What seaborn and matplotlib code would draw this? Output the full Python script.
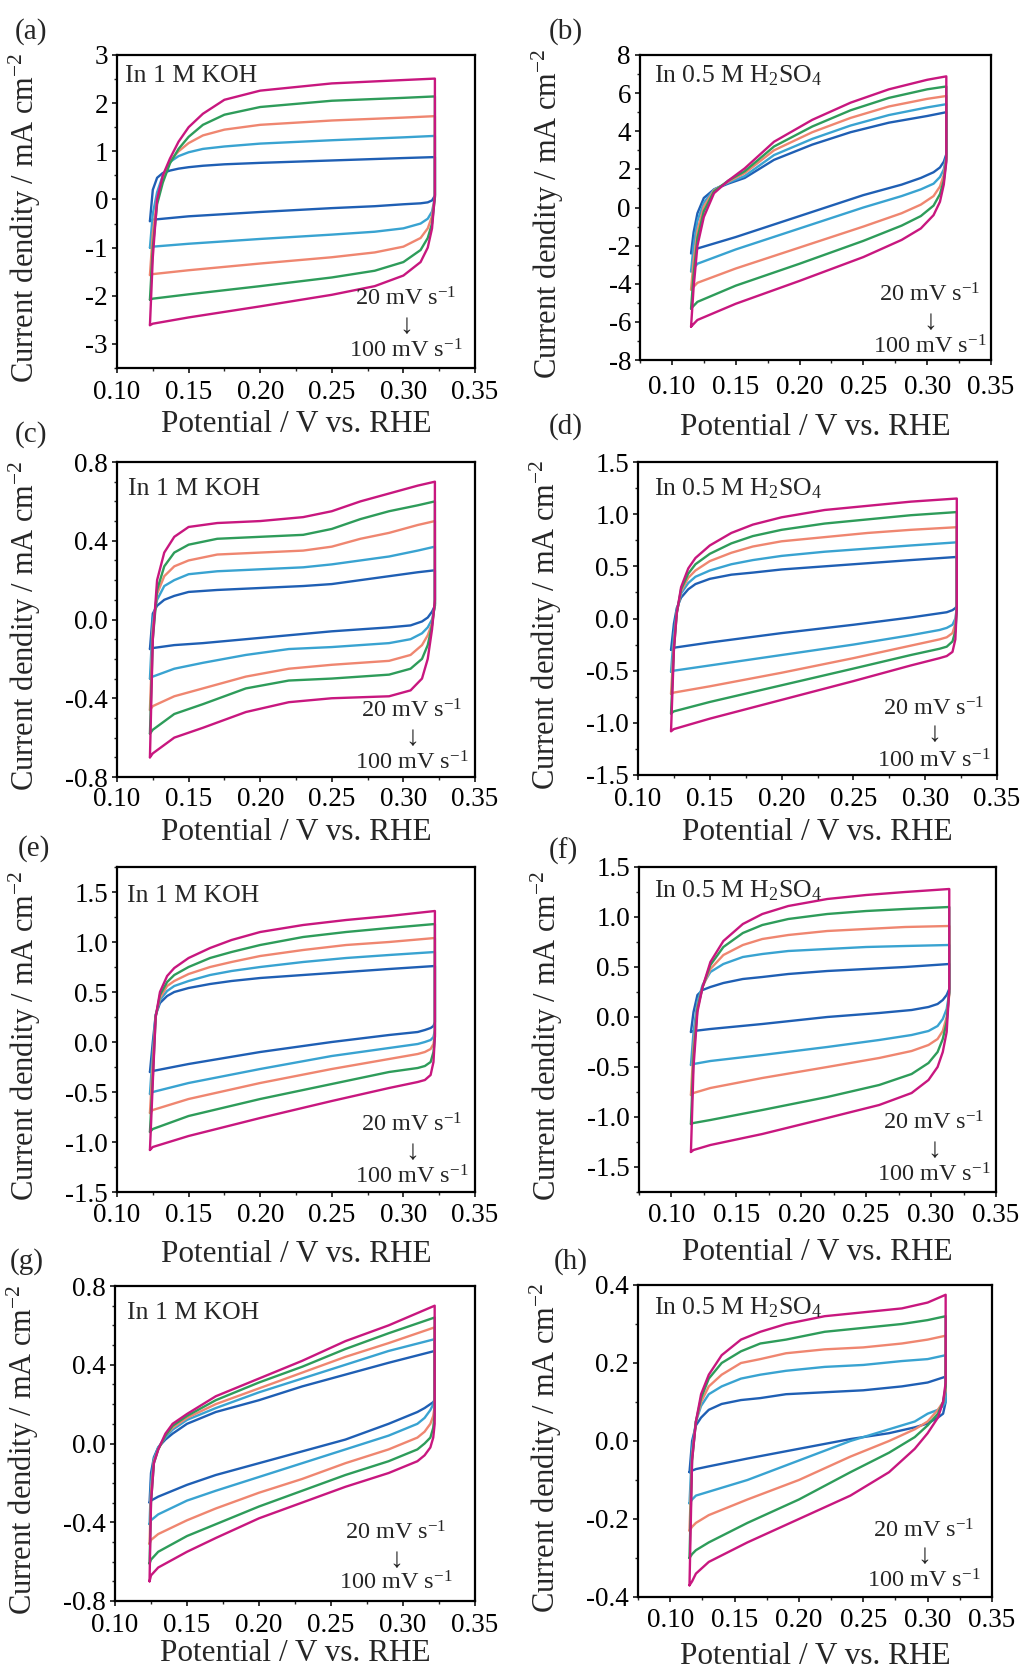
import numpy as np
import pandas as pd
import matplotlib
matplotlib.use("Agg")
import matplotlib.pyplot as plt
import seaborn as sns
from matplotlib.ticker import MultipleLocator, FormatStrFormatter

# ---------------- data ----------------
RATES = [20, 40, 60, 80, 100]
COLORS = ["#1f5fb4", "#39a3d1", "#ef8670", "#2e9c5a", "#c8177f"]

# (a) 1 M KOH
A_E_UP = [0.123, 0.125, 0.128, 0.132, 0.137, 0.143, 0.150, 0.160, 0.175, 0.200, 0.250, 0.300, 0.322]
A_J_UP = [
    [-0.45, 0.20, 0.45, 0.55, 0.60, 0.64, 0.67, 0.70, 0.73, 0.76, 0.81, 0.86, 0.88],
    [-1.00, -0.30, 0.15, 0.50, 0.78, 0.90, 0.98, 1.05, 1.10, 1.16, 1.23, 1.29, 1.32],
    [-1.57, -0.70, 0.00, 0.45, 0.80, 1.00, 1.17, 1.33, 1.45, 1.55, 1.64, 1.70, 1.73],
    [-2.08, -1.00, -0.10, 0.35, 0.75, 1.05, 1.30, 1.55, 1.76, 1.92, 2.05, 2.11, 2.14],
    [-2.61, -1.20, 0.00, 0.50, 0.85, 1.20, 1.50, 1.78, 2.07, 2.26, 2.41, 2.48, 2.51],
]
A_E_DN = [0.322, 0.320, 0.317, 0.312, 0.300, 0.280, 0.250, 0.200, 0.150, 0.125, 0.123]
A_J_DN = [
    [0.08, -0.02, -0.06, -0.08, -0.10, -0.14, -0.18, -0.26, -0.35, -0.42, -0.45],
    [0.05, -0.25, -0.40, -0.50, -0.60, -0.67, -0.73, -0.82, -0.92, -0.98, -1.00],
    [0.05, -0.35, -0.60, -0.80, -0.98, -1.10, -1.20, -1.33, -1.47, -1.55, -1.57],
    [0.05, -0.50, -0.80, -1.05, -1.30, -1.48, -1.62, -1.80, -1.97, -2.06, -2.08],
    [0.10, -0.60, -1.00, -1.30, -1.58, -1.80, -1.98, -2.22, -2.45, -2.58, -2.61],
]

# (b) 0.5 M H2SO4
B_E_UP = [0.115, 0.117, 0.120, 0.125, 0.133, 0.144, 0.157, 0.180, 0.210, 0.240, 0.270, 0.300, 0.315]
B_J_UP = [
    [-2.40, -1.30, -0.30, 0.50, 0.95, 1.25, 1.55, 2.50, 3.30, 3.95, 4.45, 4.80, 5.00],
    [-3.35, -2.00, -0.70, 0.25, 0.95, 1.30, 1.65, 2.75, 3.60, 4.30, 4.85, 5.25, 5.42],
    [-4.30, -2.80, -1.20, 0.05, 0.90, 1.35, 1.80, 3.00, 3.95, 4.70, 5.30, 5.70, 5.85],
    [-5.30, -3.50, -1.60, -0.20, 0.85, 1.40, 1.90, 3.20, 4.25, 5.10, 5.75, 6.20, 6.35],
    [-6.25, -4.20, -2.00, -0.50, 0.75, 1.40, 2.05, 3.45, 4.60, 5.50, 6.20, 6.70, 6.88],
]
B_E_DN = [0.315, 0.313, 0.310, 0.305, 0.295, 0.280, 0.250, 0.200, 0.150, 0.120, 0.115]
B_J_DN = [
    [2.80, 2.40, 2.10, 1.85, 1.55, 1.20, 0.65, -0.45, -1.55, -2.15, -2.40],
    [2.70, 2.00, 1.60, 1.25, 0.95, 0.60, 0.00, -1.10, -2.20, -2.95, -3.35],
    [2.60, 1.70, 1.10, 0.60, 0.15, -0.30, -1.00, -2.10, -3.20, -3.95, -4.30],
    [2.50, 1.40, 0.70, 0.10, -0.45, -0.95, -1.75, -2.95, -4.10, -4.95, -5.30],
    [2.40, 1.20, 0.30, -0.40, -1.10, -1.70, -2.60, -3.85, -5.05, -5.90, -6.25],
]

# (c) 1 M KOH
C_E_UP = [0.123, 0.125, 0.128, 0.133, 0.140, 0.150, 0.170, 0.200, 0.230, 0.250, 0.270, 0.290, 0.310, 0.322]
C_J_UP = [
    [-0.15, 0.03, 0.07, 0.10, 0.12, 0.14, 0.15, 0.16, 0.17, 0.18, 0.20, 0.22, 0.24, 0.25],
    [-0.30, 0.00, 0.10, 0.17, 0.20, 0.23, 0.245, 0.255, 0.265, 0.28, 0.30, 0.32, 0.35, 0.37],
    [-0.46, -0.05, 0.13, 0.22, 0.27, 0.30, 0.33, 0.34, 0.35, 0.37, 0.41, 0.44, 0.48, 0.50],
    [-0.58, -0.10, 0.15, 0.27, 0.34, 0.38, 0.41, 0.42, 0.43, 0.46, 0.51, 0.55, 0.58, 0.60],
    [-0.70, -0.10, 0.20, 0.34, 0.42, 0.47, 0.49, 0.50, 0.52, 0.55, 0.60, 0.64, 0.68, 0.70],
]
C_E_DN = [0.322, 0.320, 0.317, 0.313, 0.305, 0.290, 0.270, 0.250, 0.220, 0.190, 0.160, 0.140, 0.125, 0.123]
C_J_DN = [
    [0.07, 0.04, 0.01, -0.01, -0.03, -0.04, -0.05, -0.06, -0.08, -0.10, -0.12, -0.13, -0.145, -0.15],
    [0.07, 0.00, -0.04, -0.07, -0.10, -0.12, -0.13, -0.14, -0.15, -0.18, -0.22, -0.25, -0.29, -0.30],
    [0.08, -0.02, -0.08, -0.13, -0.18, -0.21, -0.22, -0.23, -0.25, -0.29, -0.35, -0.39, -0.44, -0.46],
    [0.08, -0.03, -0.13, -0.20, -0.25, -0.28, -0.29, -0.30, -0.31, -0.35, -0.43, -0.48, -0.56, -0.58],
    [0.10, -0.05, -0.20, -0.30, -0.36, -0.39, -0.395, -0.40, -0.42, -0.47, -0.55, -0.60, -0.68, -0.70],
]

# (d) 0.5 M H2SO4
D_E_UP = [0.123, 0.125, 0.127, 0.130, 0.135, 0.140, 0.150, 0.165, 0.180, 0.200, 0.230, 0.260, 0.290, 0.322]
D_J_UP = [
    [-0.30, -0.05, 0.10, 0.20, 0.28, 0.33, 0.38, 0.42, 0.44, 0.47, 0.50, 0.53, 0.56, 0.59],
    [-0.51, -0.15, 0.07, 0.24, 0.34, 0.40, 0.46, 0.52, 0.56, 0.60, 0.64, 0.67, 0.70, 0.73],
    [-0.72, -0.25, 0.06, 0.26, 0.39, 0.46, 0.55, 0.63, 0.69, 0.74, 0.78, 0.82, 0.85, 0.875],
    [-0.91, -0.30, 0.05, 0.28, 0.43, 0.52, 0.62, 0.72, 0.79, 0.85, 0.91, 0.95, 0.99, 1.02],
    [-1.08, -0.30, 0.05, 0.30, 0.48, 0.58, 0.70, 0.82, 0.90, 0.97, 1.04, 1.08, 1.12, 1.15],
]
D_E_DN = [0.322, 0.321, 0.319, 0.315, 0.310, 0.290, 0.250, 0.200, 0.150, 0.125, 0.123]
D_J_DN = [
    [0.12, 0.10, 0.08, 0.06, 0.05, 0.01, -0.06, -0.14, -0.23, -0.28, -0.30],
    [0.10, 0.00, -0.06, -0.09, -0.11, -0.16, -0.25, -0.35, -0.45, -0.50, -0.51],
    [0.10, -0.05, -0.14, -0.18, -0.20, -0.26, -0.38, -0.52, -0.65, -0.71, -0.72],
    [0.08, -0.12, -0.22, -0.27, -0.29, -0.35, -0.48, -0.64, -0.80, -0.89, -0.91],
    [0.10, -0.20, -0.32, -0.36, -0.38, -0.45, -0.60, -0.78, -0.96, -1.06, -1.08],
]

# (e) 1 M KOH
E_E_UP = [0.123, 0.125, 0.127, 0.130, 0.135, 0.140, 0.150, 0.165, 0.180, 0.200, 0.230, 0.260, 0.290, 0.322]
E_J_UP = [
    [-0.30, 0.00, 0.27, 0.39, 0.46, 0.50, 0.54, 0.58, 0.61, 0.64, 0.67, 0.70, 0.73, 0.76],
    [-0.52, -0.10, 0.27, 0.42, 0.51, 0.56, 0.61, 0.67, 0.71, 0.75, 0.80, 0.84, 0.87, 0.90],
    [-0.71, -0.20, 0.26, 0.44, 0.56, 0.61, 0.68, 0.75, 0.80, 0.86, 0.92, 0.97, 1.00, 1.04],
    [-0.90, -0.35, 0.25, 0.47, 0.60, 0.67, 0.75, 0.84, 0.90, 0.97, 1.05, 1.10, 1.14, 1.18],
    [-1.08, -0.40, 0.25, 0.50, 0.66, 0.74, 0.84, 0.94, 1.02, 1.10, 1.17, 1.22, 1.26, 1.31],
]
E_E_DN = [0.322, 0.321, 0.319, 0.315, 0.310, 0.290, 0.250, 0.200, 0.150, 0.125, 0.123]
E_J_DN = [
    [0.20, 0.16, 0.14, 0.12, 0.10, 0.07, 0.00, -0.10, -0.22, -0.29, -0.30],
    [0.12, 0.05, 0.02, 0.00, -0.02, -0.06, -0.14, -0.27, -0.41, -0.50, -0.52],
    [0.08, -0.02, -0.07, -0.10, -0.12, -0.17, -0.27, -0.41, -0.57, -0.68, -0.71],
    [0.05, -0.10, -0.20, -0.24, -0.26, -0.30, -0.42, -0.57, -0.74, -0.87, -0.90],
    [0.06, -0.20, -0.33, -0.38, -0.40, -0.46, -0.59, -0.76, -0.94, -1.05, -1.08],
]

# (f) 0.5 M H2SO4
F_E_UP = [0.115, 0.117, 0.120, 0.124, 0.130, 0.140, 0.155, 0.170, 0.190, 0.220, 0.250, 0.280, 0.314]
F_J_UP = [
    [-0.15, 0.05, 0.22, 0.27, 0.30, 0.34, 0.38, 0.40, 0.43, 0.46, 0.48, 0.50, 0.53],
    [-0.48, -0.15, 0.15, 0.32, 0.45, 0.53, 0.60, 0.63, 0.66, 0.68, 0.70, 0.71, 0.72],
    [-0.78, -0.30, 0.10, 0.30, 0.48, 0.62, 0.72, 0.78, 0.82, 0.86, 0.88, 0.90, 0.91],
    [-1.07, -0.40, 0.08, 0.30, 0.52, 0.70, 0.84, 0.92, 0.98, 1.03, 1.06, 1.08, 1.10],
    [-1.35, -0.50, 0.05, 0.30, 0.55, 0.76, 0.93, 1.03, 1.11, 1.18, 1.22, 1.25, 1.28],
]
F_E_DN = [0.314, 0.312, 0.309, 0.305, 0.298, 0.285, 0.260, 0.220, 0.170, 0.130, 0.117, 0.115]
F_J_DN = [
    [0.28, 0.22, 0.17, 0.13, 0.10, 0.07, 0.04, 0.00, -0.07, -0.12, -0.14, -0.15],
    [0.24, 0.08, -0.02, -0.09, -0.14, -0.18, -0.23, -0.30, -0.38, -0.44, -0.47, -0.48],
    [0.22, 0.00, -0.14, -0.22, -0.28, -0.34, -0.41, -0.50, -0.61, -0.71, -0.76, -0.78],
    [0.25, -0.05, -0.22, -0.35, -0.46, -0.57, -0.68, -0.80, -0.93, -1.03, -1.06, -1.07],
    [0.28, -0.15, -0.35, -0.50, -0.63, -0.76, -0.88, -1.01, -1.17, -1.28, -1.33, -1.35],
]

# (g) 1 M KOH
G_E_UP = [0.124, 0.125, 0.127, 0.130, 0.135, 0.140, 0.150, 0.170, 0.200, 0.230, 0.260, 0.290, 0.322]
G_J_UP = [
    [-0.30, -0.15, -0.07, -0.02, 0.02, 0.05, 0.10, 0.16, 0.22, 0.29, 0.35, 0.41, 0.47],
    [-0.41, -0.20, -0.08, -0.02, 0.03, 0.07, 0.12, 0.18, 0.26, 0.33, 0.40, 0.47, 0.53],
    [-0.51, -0.25, -0.09, -0.03, 0.04, 0.08, 0.13, 0.20, 0.28, 0.36, 0.44, 0.51, 0.59],
    [-0.61, -0.30, -0.10, -0.03, 0.04, 0.09, 0.14, 0.22, 0.31, 0.39, 0.48, 0.56, 0.64],
    [-0.70, -0.30, -0.10, -0.03, 0.05, 0.10, 0.15, 0.24, 0.33, 0.42, 0.52, 0.60, 0.70],
]
G_E_DN = [0.322, 0.321, 0.319, 0.315, 0.310, 0.290, 0.260, 0.230, 0.200, 0.170, 0.150, 0.130, 0.125, 0.124]
G_J_DN = [
    [0.22, 0.21, 0.20, 0.18, 0.16, 0.10, 0.02, -0.04, -0.10, -0.16, -0.21, -0.27, -0.29, -0.30],
    [0.23, 0.20, 0.17, 0.13, 0.10, 0.04, -0.03, -0.10, -0.17, -0.24, -0.29, -0.36, -0.39, -0.41],
    [0.19, 0.14, 0.10, 0.06, 0.03, -0.03, -0.10, -0.18, -0.25, -0.33, -0.39, -0.46, -0.49, -0.51],
    [0.15, 0.08, 0.03, 0.00, -0.03, -0.09, -0.16, -0.24, -0.32, -0.41, -0.47, -0.55, -0.59, -0.61],
    [0.10, 0.03, -0.02, -0.06, -0.09, -0.15, -0.22, -0.30, -0.38, -0.48, -0.55, -0.63, -0.67, -0.70],
]

# (h) 0.5 M H2SO4
H_E_UP = [0.115, 0.117, 0.120, 0.124, 0.130, 0.140, 0.155, 0.170, 0.190, 0.220, 0.250, 0.280, 0.300, 0.314]
H_J_UP = [
    [-0.08, 0.00, 0.04, 0.06, 0.08, 0.095, 0.105, 0.11, 0.12, 0.125, 0.13, 0.14, 0.15, 0.165],
    [-0.16, -0.02, 0.05, 0.09, 0.12, 0.14, 0.16, 0.17, 0.18, 0.19, 0.195, 0.205, 0.21, 0.22],
    [-0.23, -0.04, 0.05, 0.10, 0.14, 0.17, 0.20, 0.21, 0.225, 0.235, 0.24, 0.25, 0.26, 0.27],
    [-0.30, -0.05, 0.05, 0.11, 0.16, 0.20, 0.23, 0.25, 0.26, 0.28, 0.29, 0.30, 0.31, 0.32],
    [-0.37, -0.05, 0.05, 0.12, 0.17, 0.22, 0.26, 0.28, 0.30, 0.32, 0.33, 0.34, 0.355, 0.375],
]
H_E_DN = [0.314, 0.312, 0.308, 0.300, 0.290, 0.270, 0.240, 0.200, 0.160, 0.130, 0.120, 0.117, 0.115]
H_J_DN = [
    [0.10, 0.07, 0.06, 0.045, 0.035, 0.02, 0.005, -0.02, -0.045, -0.065, -0.072, -0.076, -0.08],
    [0.10, 0.09, 0.08, 0.07, 0.05, 0.03, 0.00, -0.05, -0.10, -0.13, -0.14, -0.15, -0.16],
    [0.13, 0.10, 0.08, 0.05, 0.03, 0.00, -0.04, -0.10, -0.15, -0.19, -0.21, -0.22, -0.23],
    [0.14, 0.10, 0.07, 0.04, 0.01, -0.03, -0.08, -0.15, -0.21, -0.26, -0.28, -0.29, -0.30],
    [0.15, 0.10, 0.06, 0.02, -0.02, -0.08, -0.14, -0.20, -0.26, -0.31, -0.34, -0.36, -0.37],
]

LABELS = ["(a)", "(b)", "(c)", "(d)", "(e)", "(f)", "(g)", "(h)"]
ELECTROLYTE = ["In 1 M KOH", r"In 0.5 M H$_2$SO$_4$"] * 4
RATE_TOP = r"20 mV s$^{\mathrm{-1}}$"
RATE_BOT = r"100 mV s$^{\mathrm{-1}}$"
XLABEL = "Potential / V vs. RHE"
YLABEL = r"Current dendity / mA cm$^{\mathrm{-2}}$"

# ---------------- style ----------------
sns.set_theme(style="ticks")
plt.rcParams["font.family"] = ["Liberation Serif", "DejaVu Serif"]
plt.rcParams["mathtext.fontset"] = "custom"
plt.rcParams["mathtext.rm"] = "Liberation Serif"
plt.rcParams["mathtext.it"] = "Liberation Serif:italic"
plt.rcParams["mathtext.bf"] = "Liberation Serif:bold"
plt.rcParams["axes.unicode_minus"] = False

W, H = 1024, 1675
fig = plt.figure(figsize=(W / 100, H / 100), dpi=100)
PX = 72 / 100  # points per pixel

# axes boxes in pixels: left, top, right, bottom
BOX = [
    (117, 55, 475, 368), (640, 55, 991, 360),
    (117, 462, 475, 777), (638, 462, 997, 775),
    (117, 867, 475, 1192), (639, 867, 996, 1192),
    (115, 1286, 475, 1601), (638, 1285, 992, 1597),
]
YLIM = [(-3.5, 3), (-8, 8), (-0.8, 0.8), (-1.5, 1.5), (-1.5, 1.75), (-1.75, 1.5), (-0.8, 0.8), (-0.4, 0.4)]
YMAJ = [1, 2, 0.4, 0.5, 0.5, 0.5, 0.4, 0.2]
YMIN = [0.5, 1, 0.1, 0.25, 0.25, 0.25, 0.1, 0.1]
YFMT = ["%d", "%d", "%.1f", "%.1f", "%.1f", "%.1f", "%.1f", "%.1f"]
XLO = [0.10, 0.075, 0.10, 0.10, 0.10, 0.075, 0.10, 0.075]
XPAD = [7, 10, 5, 7, 6, 6, 7, 6]
XLAB_Y = [42, 53, 41, 43, 48, 46, 38, 45]
LABEL_POS = [(15, 18), (549, 18), (15, 421), (549, 413), (18, 835), (549, 838), (10, 1248), (554, 1248)]
ELEC_OFF = [(8, 27), (14, 27), (11, 33), (16, 33), (10, 35), (15, 30), (12, 33), (16, 29)]
RATE_OFF = [(69, 63, 42, 11), (61, 58, 38, 7), (63, 59, 39, 7), (63, 60, 40, 8),
            (63, 60, 39, 9), (62, 62, 42, 10), (79, 61, 41, 11), (68, 60, 40, 9)]

DATA = [
    (A_E_UP, A_J_UP, A_E_DN, A_J_DN), (B_E_UP, B_J_UP, B_E_DN, B_J_DN),
    (C_E_UP, C_J_UP, C_E_DN, C_J_DN), (D_E_UP, D_J_UP, D_E_DN, D_J_DN),
    (E_E_UP, E_J_UP, E_E_DN, E_J_DN), (F_E_UP, F_J_UP, F_E_DN, F_J_DN),
    (G_E_UP, G_J_UP, G_E_DN, G_J_DN), (H_E_UP, H_J_UP, H_E_DN, H_J_DN),
]
palette = dict(zip(RATES, COLORS))

for p in range(8):
    l, t, r, b = BOX[p]
    ax = fig.add_axes([l / W, 1 - b / H, (r - l) / W, (b - t) / H])
    e_up, j_up, e_dn, j_dn = DATA[p]
    rows = []
    for k, rate in enumerate(RATES):
        E = list(e_up) + list(e_dn) + [e_up[0]]
        J = list(j_up[k]) + list(j_dn[k]) + [j_up[k][0]]
        for i, (e, j) in enumerate(zip(E, J)):
            rows.append({"E": e, "J": j, "rate": rate, "i": i})
    df = pd.DataFrame(rows)
    sns.lineplot(data=df, x="E", y="J", hue="rate", palette=palette, sort=False,
                 estimator=None, legend=False, lw=1.7, ax=ax)

    ax.set_xlim(XLO[p], 0.35)
    ax.set_ylim(*YLIM[p])
    ax.xaxis.set_major_locator(MultipleLocator(0.05))
    ax.xaxis.set_minor_locator(MultipleLocator(0.025))
    ax.yaxis.set_major_locator(MultipleLocator(YMAJ[p]))
    ax.yaxis.set_minor_locator(MultipleLocator(YMIN[p]))
    ax.xaxis.set_major_formatter(FormatStrFormatter("%.2f"))
    ax.yaxis.set_major_formatter(FormatStrFormatter(YFMT[p]))
    ax.tick_params(which="major", direction="out", length=3.6, width=1.1,
                   labelsize=19.5, colors="black", top=False, right=False)
    ax.tick_params(which="minor", direction="out", length=2.0, width=1.0, top=False, right=False)
    ax.tick_params(axis="y", which="major", pad=4 * PX)
    ax.tick_params(axis="x", which="major", pad=XPAD[p] * PX)
    for s in ax.spines.values():
        s.set_linewidth(1.6)
        s.set_color("black")
        s.set_visible(True)

    ax.set_xlabel(XLABEL, fontsize=22.5)
    ax.set_ylabel(YLABEL, fontsize=22)
    aw, ah = r - l, b - t
    ax.xaxis.set_label_coords(0.5, -XLAB_Y[p] / ah)
    ax.yaxis.set_label_coords(-74 / aw, 0.48)

    ex, ey = ELEC_OFF[p]
    ax.annotate(ELECTROLYTE[p], xy=(0, 1), xycoords="axes fraction",
                xytext=(ex * PX, -ey * PX), textcoords="offset points",
                ha="left", va="baseline", fontsize=18.5)
    rx, y1, y2, y3 = RATE_OFF[p]
    ax.annotate(RATE_TOP, xy=(1, 0), xycoords="axes fraction",
                xytext=(-rx * PX, y1 * PX), textcoords="offset points",
                ha="center", va="baseline", fontsize=17.5)
    ax.annotate("\u2193", xy=(1, 0), xycoords="axes fraction",
                xytext=(-rx * PX, y2 * PX), textcoords="offset points",
                ha="center", va="center", fontsize=20)
    ax.annotate(RATE_BOT, xy=(1, 0), xycoords="axes fraction",
                xytext=(-rx * PX, y3 * PX), textcoords="offset points",
                ha="center", va="baseline", fontsize=17.5)

    lx, ly = LABEL_POS[p]
    fig.text(lx / W, 1 - ly / H, LABELS[p], ha="left", va="top", fontsize=21)

fig.savefig("out.png", dpi=100, facecolor="white")
